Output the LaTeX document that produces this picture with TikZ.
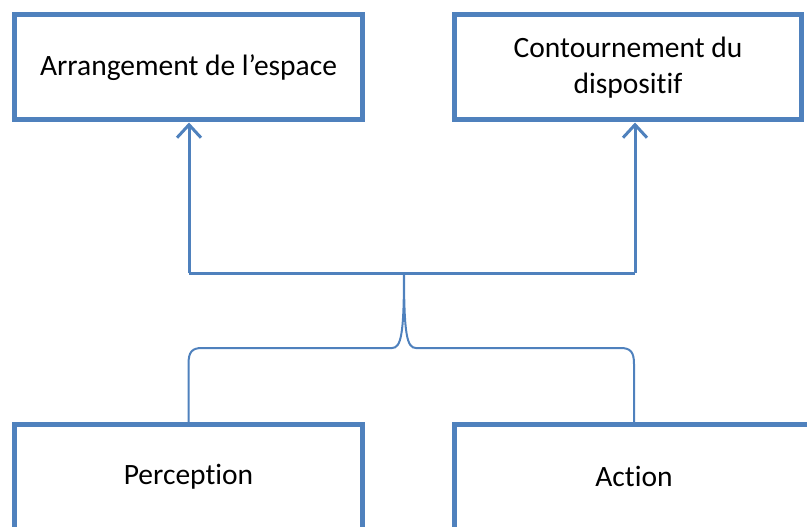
\documentclass[tikz,border=0pt]{standalone}
\usepackage{fontspec}
\setmainfont{Carlito}[Ligatures={NoCommon,NoRare}]
\usepackage{xcolor}
\definecolor{officeblue}{HTML}{4F81BD}
\usepackage{tikz}
\usetikzlibrary{arrows.meta, positioning}

\begin{document}
\begin{tikzpicture}[
      x=1pt, y=-1pt,
      box/.style={draw=officeblue, line width=5pt, fill=white,
                  minimum width=348pt, minimum height=105pt,
                  font=\fontsize{29.5}{36}\selectfont, align=center, inner sep=0pt},
      link/.style={-{Straight Barb[length=13pt, width=24pt]}, line width=3pt, officeblue},
      brace/.style={line width=2pt, officeblue}
    ]
    \useasboundingbox (0,0) rectangle (807,527);
    \clip (0,0) rectangle (807,527);

    \node[box] (arrangement) at (188.5,67.5) {Arrangement de l’espace};
    \node[box, minimum width=347pt] (contournement) at (628,67.5)
      {Contournement du\\dispositif};

    \coordinate (jl) at (189,273);
    \coordinate (jm) at (404,273);
    \coordinate (jr) at (635,273);

    % brace under the joint
    \draw[brace] (188.5,424) -- (188.5,364)
      .. controls (188.5,352) and (192,348) .. (202,348) -- (392,348)
      .. controls (401,348) and (404,335) .. (jm);
    \draw[brace] (634,424) -- (634,364)
      .. controls (634,352) and (630.5,348) .. (620.5,348) -- (416,348)
      .. controls (407,348) and (404,335) .. (jm);

    \node[box] (perception) at (188.5,476.5) {Perception};
    \node[box, minimum width=359pt] (action) at (634,476.5) {Action};

    \draw[line width=3pt, officeblue] (jl) -- (jr);
    \draw[link] (jl) -- (jl |- arrangement.south);
    \draw[link] (jr) -- (jr |- contournement.south);
  \end{tikzpicture}
\end{document}
